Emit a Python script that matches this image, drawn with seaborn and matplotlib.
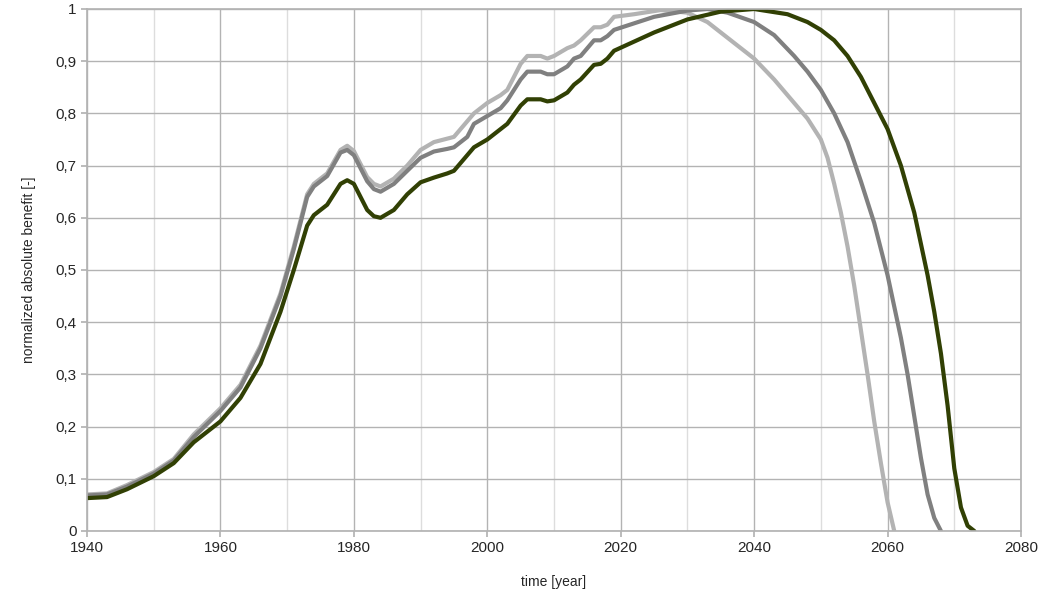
import matplotlib
matplotlib.use("Agg")
import matplotlib.pyplot as plt
import seaborn as sns
from matplotlib.ticker import FuncFormatter, MultipleLocator

dark_x = [1940,1943,1946,1950,1953,1956,1960,1963,1966,1969,1971,1973,1974,1976,1978,1979,1980,1982,1983,1984,1986,1988,1990,1992,1994,1995,1997,1998,2000,2002,2003,2005,2006,2008,2009,2010,2012,2013,2014,2016,2017,2018,2019,2025,2030,2035,2040,2045,2048,2050,2052,2054,2056,2058,2060,2062,2064,2066,2067,2068,2069,2070,2071,2072,2073]
dark_y = [0.063,0.065,0.08,0.105,0.13,0.17,0.21,0.255,0.32,0.42,0.5,0.585,0.605,0.625,0.665,0.672,0.665,0.615,0.603,0.6,0.615,0.645,0.668,0.677,0.685,0.69,0.72,0.735,0.75,0.77,0.78,0.815,0.827,0.827,0.823,0.825,0.84,0.855,0.865,0.893,0.895,0.905,0.92,0.955,0.98,0.995,1.0,0.99,0.975,0.96,0.94,0.91,0.87,0.82,0.77,0.70,0.61,0.49,0.42,0.34,0.24,0.12,0.045,0.01,0.0]
mid_x = [1940,1943,1946,1950,1953,1956,1960,1963,1966,1969,1971,1973,1974,1976,1978,1979,1980,1982,1983,1984,1986,1988,1990,1992,1994,1995,1997,1998,2000,2002,2003,2005,2006,2008,2009,2010,2012,2013,2014,2016,2017,2018,2019,2025,2030,2033,2036,2040,2043,2046,2048,2050,2052,2054,2056,2058,2060,2062,2063,2064,2065,2066,2067,2068]
mid_y = [0.068,0.07,0.085,0.11,0.135,0.18,0.23,0.275,0.35,0.45,0.54,0.64,0.66,0.68,0.725,0.73,0.72,0.67,0.655,0.65,0.665,0.69,0.715,0.727,0.732,0.735,0.755,0.78,0.795,0.81,0.825,0.865,0.88,0.88,0.875,0.875,0.89,0.905,0.91,0.94,0.94,0.948,0.96,0.985,0.997,1.0,0.993,0.975,0.95,0.91,0.88,0.845,0.80,0.745,0.67,0.59,0.49,0.37,0.30,0.22,0.14,0.07,0.025,0.0]
light_x = [1940,1943,1946,1950,1953,1956,1960,1963,1966,1969,1971,1973,1974,1976,1978,1979,1980,1982,1983,1984,1986,1988,1990,1992,1995,1998,2000,2002,2003,2005,2006,2008,2009,2010,2012,2013,2014,2016,2017,2018,2019,2022,2026,2030,2033,2036,2040,2043,2046,2048,2050,2051,2052,2053,2054,2055,2056,2057,2058,2059,2060,2061]
light_y = [0.07,0.072,0.088,0.113,0.138,0.185,0.235,0.28,0.355,0.455,0.545,0.645,0.665,0.685,0.73,0.738,0.728,0.678,0.665,0.66,0.675,0.7,0.73,0.745,0.755,0.8,0.82,0.835,0.845,0.895,0.91,0.91,0.905,0.91,0.925,0.93,0.94,0.965,0.965,0.97,0.985,0.99,0.998,0.993,0.975,0.945,0.905,0.865,0.82,0.79,0.75,0.715,0.665,0.61,0.545,0.47,0.385,0.30,0.21,0.13,0.055,0.0]

sns.set_theme(style="white")
plt.rcParams['font.family'] = ['Liberation Sans', 'DejaVu Sans']
fig = plt.figure(figsize=(10.42, 6.03), dpi=100)
ax = fig.add_axes([87/1042, 72/603, 934/1042, 522/603])

for xs, ys, c in [(light_x, light_y, '#b3b3b3'), (mid_x, mid_y, '#808080'), (dark_x, dark_y, '#314004')]:
    sns.lineplot(x=xs, y=ys, ax=ax, color=c, linewidth=3)

def fmt(v, p):
    if abs(v - round(v)) < 1e-9:
        return str(int(round(v)))
    return f"{v:.1f}".replace('.', ',')

ax.set_xlim(1940, 2080)
ax.set_ylim(0, 1)
ax.xaxis.set_major_locator(MultipleLocator(20))
ax.xaxis.set_minor_locator(MultipleLocator(10))
ax.yaxis.set_major_locator(MultipleLocator(0.1))
ax.yaxis.set_major_formatter(FuncFormatter(fmt))
ax.grid(which='major', color='#b3b3b3', linewidth=1)
ax.grid(which='minor', axis='x', color='#dddddd', linewidth=1)
ax.set_axisbelow(True)
for s in ax.spines.values():
    s.set_color('#b3b3b3')
ax.tick_params(which='both', length=4, color='#b3b3b3', labelsize=11, direction='out', bottom=True, left=True)
ax.tick_params(which='minor', length=0)
ax.set_xlabel("time [year]", fontsize=10, labelpad=14)
ax.set_ylabel("normalized absolute benefit [-]", fontsize=10, labelpad=14)
fig.savefig("out.png", dpi=100)
